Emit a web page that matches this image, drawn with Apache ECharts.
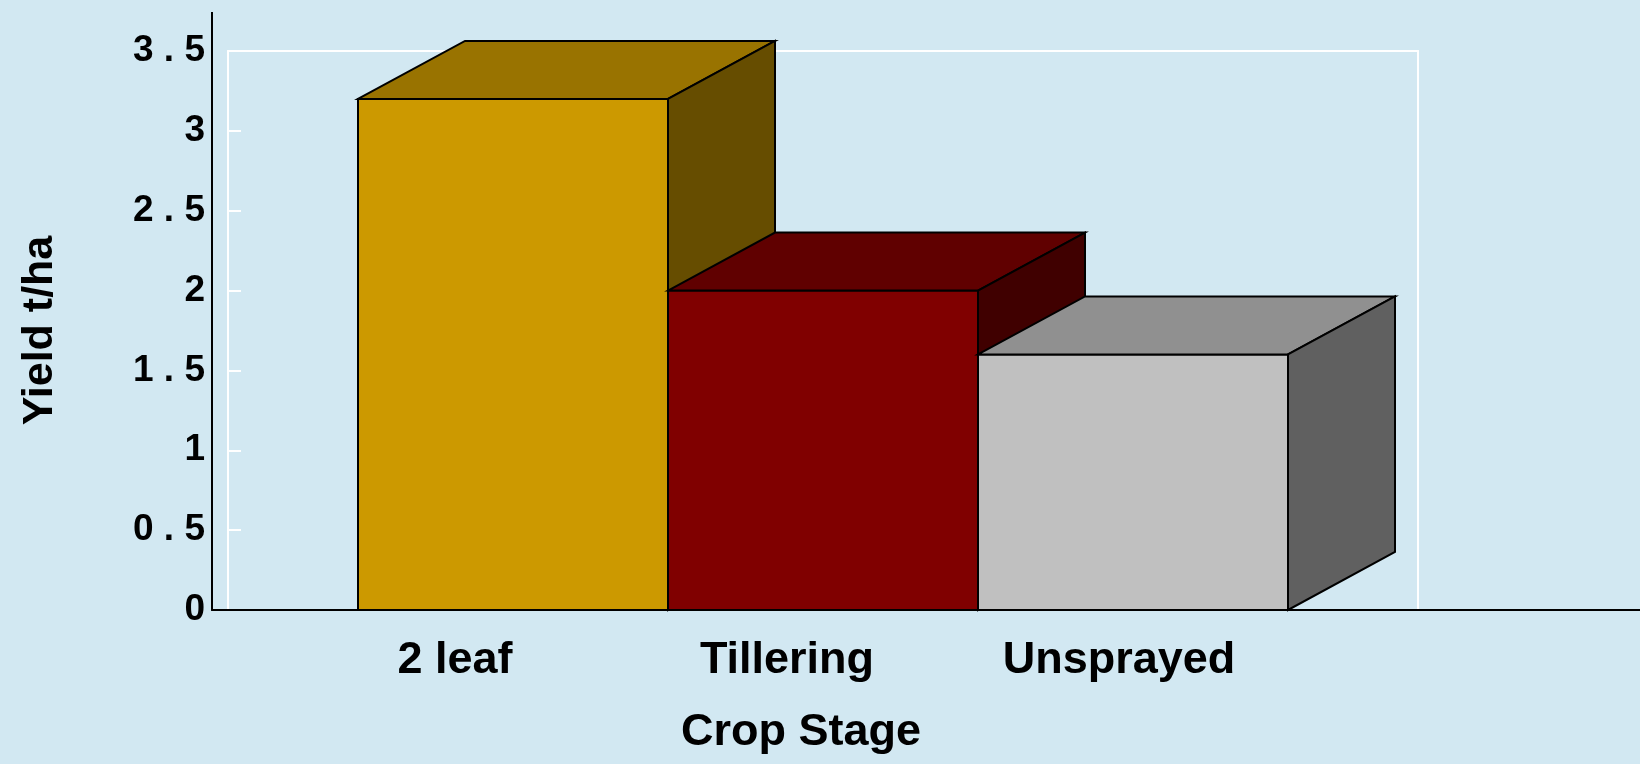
<!DOCTYPE html>
<html>
<head>
<meta charset="utf-8">
<title>Yield by crop stage</title>
<script src="https://cdn.jsdelivr.net/npm/echarts@6/dist/echarts.min.js"></script>
<style>
  html, body { margin: 0; padding: 0; background: #d2e8f2; }
  #chart { width: 1640px; height: 764px; }
</style>
</head>
<body>
<div id="chart"></div>
<script>
// data
const categories = ['2 leaf', 'Tillering', 'Unsprayed']
const yields = [3.2, 2.0, 1.6]
const yMin = 0
const yMax = 3.5
const yStep = 0.5

// front face colours, top and side are darker shades of these
const barColors = ['#cc9900', '#800000', '#c0c0c0']
const DEPTH_X = 107
const DEPTH_Y = 58
const FONT = '"Liberation Sans", Arial, Helvetica, sans-serif'

function shade(hex, k) {
  const n = parseInt(hex.slice(1), 16)
  const r = Math.round(((n >> 16) & 255) * k)
  const g = Math.round(((n >> 8) & 255) * k)
  const b = Math.round((n & 255) * k)
  return 'rgb(' + r + ',' + g + ',' + b + ')'
}

// "3.5" -> "3 . 5" like the original tick labels
function tickText(v) {
  return String(v).replace('.', ' . ')
}

function renderBox(params, api) {
  const i = api.value(0)
  const top = api.coord([i, api.value(1)])
  const base = api.coord([i, 0])
  const w = api.size([1, 0])[0]
  const xl = top[0] - w / 2
  const xr = top[0] + w / 2
  const yt = top[1]
  const yb = base[1]
  const c = barColors[i]
  const edge = { stroke: '#000', lineWidth: 2, lineJoin: 'miter' }
  return {
    type: 'group',
    children: [
      {
        type: 'rect',
        shape: { x: xl, y: yt, width: w, height: yb - yt },
        style: Object.assign({ fill: c }, edge)
      },
      {
        type: 'polygon',
        shape: { points: [[xl, yt], [xl + DEPTH_X, yt - DEPTH_Y], [xr + DEPTH_X, yt - DEPTH_Y], [xr, yt]] },
        style: Object.assign({ fill: shade(c, 0.75) }, edge)
      },
      {
        type: 'polygon',
        shape: { points: [[xr, yt], [xr + DEPTH_X, yt - DEPTH_Y], [xr + DEPTH_X, yb - DEPTH_Y], [xr, yb]] },
        style: Object.assign({ fill: shade(c, 0.5) }, edge)
      }
    ]
  }
}

const chart = echarts.init(document.getElementById('chart'), null, { renderer: 'canvas' })

const gridPos = { top: 51, bottom: 154 }
const hidden = { show: false }

chart.setOption({
  backgroundColor: '#d2e8f2',
  animation: false,
  textStyle: { fontFamily: FONT },
  grid: [
    // white back wall
    Object.assign({ left: 228, right: 222 }, gridPos),
    // black axis frame
    Object.assign({ left: 212, right: 0 }, gridPos),
    // boxes
    Object.assign({ left: 358, right: 352 }, gridPos),
    // category labels
    Object.assign({ left: 289, right: 355 }, gridPos)
  ],
  xAxis: [
    {
      gridIndex: 0, type: 'value', min: 0, max: 1, position: 'top', z: 0,
      axisLine: { show: true, onZero: false, lineStyle: { color: '#fff', width: 2 } },
      axisTick: hidden, axisLabel: hidden, splitLine: hidden
    },
    {
      gridIndex: 1, type: 'value', min: 0, max: 1, position: 'bottom', z: 1,
      axisLine: { show: true, onZero: false, lineStyle: { color: '#000', width: 2 } },
      axisTick: hidden, axisLabel: hidden, splitLine: hidden
    },
    {
      gridIndex: 2, type: 'category', data: categories, show: false
    },
    {
      gridIndex: 3, type: 'category', data: categories,
      axisLine: hidden, axisTick: hidden, splitLine: hidden,
      axisLabel: {
        margin: 28, color: '#000', fontSize: 45, fontWeight: 'bold', fontFamily: FONT
      },
      name: 'Crop Stage',
      nameLocation: 'middle',
      nameGap: 100,
      nameTextStyle: {
        color: '#000', fontSize: 45, fontWeight: 'bold', fontFamily: FONT,
        padding: [0, 0, 0, 28]
      }
    }
  ],
  yAxis: [
    {
      gridIndex: 0, type: 'value', min: yMin, max: yMax, interval: yStep, position: 'left', z: 0,
      axisLine: { show: true, onZero: false, lineStyle: { color: '#fff', width: 2 } },
      axisTick: { show: true, inside: true, length: 13, lineStyle: { color: '#fff', width: 2 } },
      axisLabel: hidden, splitLine: hidden
    },
    {
      gridIndex: 0, type: 'value', min: yMin, max: yMax, interval: yStep, position: 'right', z: 0,
      axisLine: { show: true, onZero: false, lineStyle: { color: '#fff', width: 2 } },
      axisTick: hidden, axisLabel: hidden, splitLine: hidden
    },
    {
      gridIndex: 1, type: 'value', min: yMin, max: yMax, interval: yStep, position: 'left', z: 1,
      axisLine: {
        show: true,
        onZero: false,
        lineStyle: { color: '#000', width: 2 },
        symbol: ['none', 'rect'],
        symbolSize: [2, 78]
      },
      axisTick: hidden, splitLine: hidden,
      axisLabel: {
        margin: 7, color: '#000', fontSize: 37, fontWeight: 'bold', fontFamily: FONT,
        formatter: tickText
      },
      name: 'Yield t/ha',
      nameLocation: 'middle',
      nameRotate: 90,
      nameGap: 150,
      nameTextStyle: { color: '#000', fontSize: 43, fontWeight: 'bold', fontFamily: FONT }
    },
    { gridIndex: 2, type: 'value', min: yMin, max: yMax, show: false },
    { gridIndex: 3, type: 'value', min: yMin, max: yMax, show: false }
  ],
  series: [
    {
      type: 'custom',
      name: 'Yield',
      xAxisIndex: 2,
      yAxisIndex: 3,
      renderItem: renderBox,
      encode: { x: 0, y: 1 },
      data: categories.map((c, i) => [i, yields[i]])
    }
  ]
})
</script>
</body>
</html>
